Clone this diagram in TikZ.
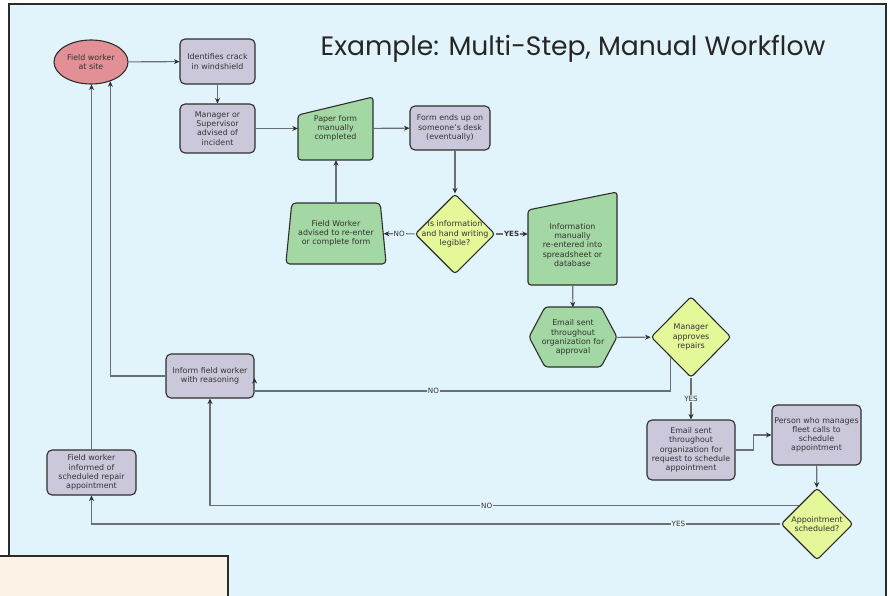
\documentclass[tikz,border=0pt]{standalone}
\usepackage{fontspec}
\setmainfont{DejaVu Sans}
\newfontfamily\titlefont{Poppins}
\usetikzlibrary{arrows.meta,shapes.geometric,positioning}

\definecolor{panelbg}{HTML}{E1F4FB}
\definecolor{notebg}{HTML}{FBF2E6}
\definecolor{framecol}{HTML}{2B2B2B}
\definecolor{boxline}{HTML}{2E2E2E}
\definecolor{linegray}{HTML}{6B7075}
\definecolor{textgray}{HTML}{333333}
\definecolor{procfill}{HTML}{CCC8DC}
\definecolor{greenfill}{HTML}{A3D7A3}
\definecolor{yellowfill}{HTML}{E4F799}
\definecolor{redfill}{HTML}{E29096}

\newcommand{\boxfont}{\fontsize{7.9}{9.2}\selectfont}

\tikzstyle{arrow}    = [draw=linegray, line width=1.1pt, -{Stealth[length=5.5pt,width=5pt,color=boxline]}]
\tikzstyle{procbox}  = [draw=boxline, line width=1.1pt, fill=procfill, rounded corners=5pt,
                        minimum width=75pt, minimum height=45pt, inner sep=1pt,
                        align=center, text=textgray, font=\boxfont]
\tikzstyle{greenbox} = [draw=boxline, line width=1.1pt, fill=greenfill, rounded corners=3pt]
\tikzstyle{textbox}  = [inner sep=1pt, align=center, text=textgray, font=\boxfont]
\tikzstyle{decision} = [draw=boxline, line width=1.1pt, fill=yellowfill, diamond, aspect=1,
                        rounded corners=3pt, inner sep=-8pt, minimum width=80pt, minimum height=80pt,
                        align=center, text=textgray, font=\boxfont]
\tikzstyle{lbl}      = [fill=panelbg, inner sep=1pt, text=textgray, font=\fontsize{7.2}{8}\selectfont]

\begin{document}
\begin{tikzpicture}[x=1pt, y=-1pt]
        \useasboundingbox (0,0) rectangle (890,596);
        \draw[line width=2.5pt, draw=framecol, fill=panelbg] (9,4) rectangle (886,610);
        \draw[line width=2.5pt, draw=framecol, fill=notebg] (-10,556) rectangle (228,610);

        \node[font=\titlefont\fontsize{26.6}{31}\selectfont, text=black!85] (title) at (573,48.5) {Example: Multi-Step, Manual Workflow};

        \node[draw=boxline, line width=1.1pt, fill=redfill, ellipse, minimum width=74pt, minimum height=44pt,
              inner sep=0pt, align=center, text=textgray, font=\boxfont] (site) at (91,62) {Field worker\\at site};
        \node[procbox] (crack) at (217.5,61.5) {Identifies crack\\in windshield};
        \node[procbox, minimum height=49pt] (mgr) at (217.5,128.5) {Manager or\\Supervisor\\advised of\\incident};

        \draw[greenbox] (298,115) -- (373,97) -- (373,160) -- (298,160) -- cycle;
        \node[textbox, minimum width=75pt, minimum height=63pt] (paper) at (335.5,128.5) {Paper form\\manually\\completed};

        \node[procbox, minimum width=80pt, minimum height=44pt] (desk) at (450,128) {Form ends up on\\someone's desk\\(eventually)};
        \node[decision] (legible) at (455,234) {Is information\\and hand writing\\legible?};

        \node[draw=boxline, line width=1.1pt, fill=greenfill, trapezium, trapezium left angle=79, trapezium right angle=79,
              trapezium stretches=true, rounded corners=4pt, minimum width=101pt, minimum height=61pt,
              inner sep=0pt, align=center, text=textgray, font=\boxfont] (redo) at (336,233.5) {Field Worker\\advised to re-enter\\or complete form};

        \draw[greenbox] (528,210) -- (617,192) -- (617,285) -- (528,285) -- cycle;
        \node[textbox, minimum width=89pt, minimum height=80pt] (info) at (572.5,245) {Information\\manually\\re-entered into\\spreadsheet or\\database};

        \draw[greenbox] (529,337) -- (545,307) -- (601,307) -- (617,337) -- (601,367) -- (545,367) -- cycle;
        \node[textbox, minimum width=88pt, minimum height=60pt] (hex) at (573,337.5) {Email sent\\throughout\\organization for\\approval};

        \node[decision, minimum width=80pt, minimum height=81pt] (approve) at (691,337) {Manager\\approves\\repairs};
        \node[procbox, minimum width=88pt, minimum height=44pt] (inform) at (210,376) {Inform field worker\\with reasoning};
        \node[procbox, minimum width=88pt, minimum height=60pt] (request) at (691,450) {Email sent\\throughout\\organization for\\request to schedule\\appointment};
        \node[procbox, minimum width=89pt, minimum height=60pt] (person) at (816.5,435) {Person who manages\\fleet calls to\\schedule\\appointment};
        \node[decision, minimum width=72pt, minimum height=72pt] (sched) at (817,524) {Appointment\\scheduled?};
        \node[procbox, minimum width=89pt, minimum height=45pt] (informed) at (91.5,472.5) {Field worker\\informed of\\scheduled repair\\appointment};

        \draw[arrow] (site) -- (crack);
        \draw[arrow] (crack) -- (mgr);
        \draw[arrow] (mgr) -- (paper);
        \draw[arrow] (paper) -- (desk);
        \draw[arrow] (legible.north |- desk.south) -- (legible.north);
        \draw[arrow] (legible) -- node[lbl] {NO} (redo);
        \draw[arrow] (redo.north) -- (redo.north |- paper.south);
        \draw[arrow] (legible.east) -- node[lbl, font=\fontsize{7.2}{8}\selectfont\bfseries] {YES} (legible.east -| info.west);
        \draw[arrow] (info) -- (hex);
        \draw[arrow] (hex) -- (approve);
        \draw[arrow] (approve.south west) |- node[lbl, pos=0.785] {NO} ([yshift=-15pt]inform.east) -- ([yshift=-2pt]inform.east);
        \draw[arrow] (approve) -- node[lbl] {YES} (request);
        \draw[arrow] (request.east) -- ++(18,0) |- (person.west);
        \draw[arrow] (person) -- (sched);
        \draw[arrow] (sched.north west) -| node[lbl, pos=0.265] {NO} (inform.south);
        \draw[arrow] (sched.west) -| node[lbl, pos=0.074] {YES} (informed.south);
        \draw[arrow] (informed.north) -- (informed.north |- site.south);
        \draw[arrow] (inform.west) -| (site.-45);
    \end{tikzpicture}
\end{document}
